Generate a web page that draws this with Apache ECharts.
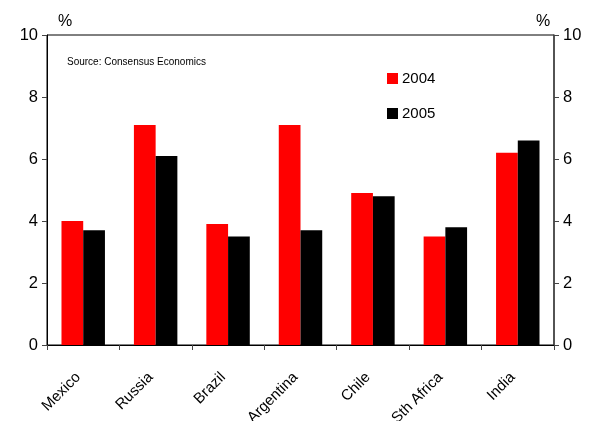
<!DOCTYPE html>
<html><head><meta charset="utf-8">
<script src="https://cdn.jsdelivr.net/npm/echarts@6/dist/echarts.min.js"></script>
<style>html,body{margin:0;padding:0;background:#fff}#c{width:601px;height:421px}</style>
</head><body><div id="c"></div>
<script>
const categories = ['Mexico','Russia','Brazil','Argentina','Chile','Sth Africa','India'];
const s2004 = [4.0, 7.1, 3.9, 7.1, 4.9, 3.5, 6.2];
const s2005 = [3.7, 6.1, 3.5, 3.7, 4.8, 3.8, 6.6];
const yTicks = [0, 2, 4, 6, 8, 10];

const chart = echarts.init(document.getElementById('c'), null, {renderer:'canvas'});
const font = 'Liberation Sans, Arial, sans-serif';
const yAxisBase = {
  type:'value', min:0, max:10, interval:2,
  splitLine:{show:false},
  axisLine:{show:true, lineStyle:{color:'#000', width:1}},
  axisTick:{show:true, inside:false, length:5, lineStyle:{color:'#444'}},
  axisLabel:{color:'#000', fontSize:16.5, fontFamily:font, margin:9,
    formatter: v => yTicks.includes(v) ? String(v) : ''}
};
chart.setOption({
  animation:false,
  grid:{left:47, right:47, top:35, bottom:76, show:true, borderColor:'#000', borderWidth:1,
    containLabel:false, outerBoundsMode:'none'},
  legend:{
    data:['2004','2005'], orient:'vertical', left:382, top:66,
    itemWidth:11, itemHeight:11, itemGap:20, icon:'rect',
    textStyle:{fontSize:15, fontFamily:font, color:'#000', padding:[0,0,0,-1]}
  },
  xAxis:{
    type:'category', data:categories,
    axisLine:{lineStyle:{color:'#000', width:1}},
    axisTick:{show:true, length:5, alignWithLabel:false, lineStyle:{color:'#444'}},
    axisLabel:{rotate:45, fontSize:15, fontFamily:font, color:'#000', margin:25, interval:0, padding:[0,7,0,0]}
  },
  yAxis:[
    Object.assign({}, yAxisBase, {position:'left'}),
    Object.assign({}, yAxisBase, {position:'right', axisLine:{show:true, lineStyle:{color:'#444', width:1.5}}})
  ],
  graphic:[
    {type:'text', left:58, top:14, style:{text:'%', fontSize:16, fontFamily:font, fill:'#000'}},
    {type:'text', left:536, top:14, style:{text:'%', fontSize:16, fontFamily:font, fill:'#000'}},
    {type:'text', left:67, top:57, style:{text:'Source: Consensus Economics', fontSize:10, fontFamily:font, fill:'#000'}}
  ],
  series:[
    {name:'2004', type:'bar', data:s2004, barGap:'0%', barCategoryGap:'40%', itemStyle:{color:'#ff0000'}},
    {name:'2005', type:'bar', data:s2005, barGap:'0%', barCategoryGap:'40%', itemStyle:{color:'#000000'}}
  ]
});
</script></body></html>
